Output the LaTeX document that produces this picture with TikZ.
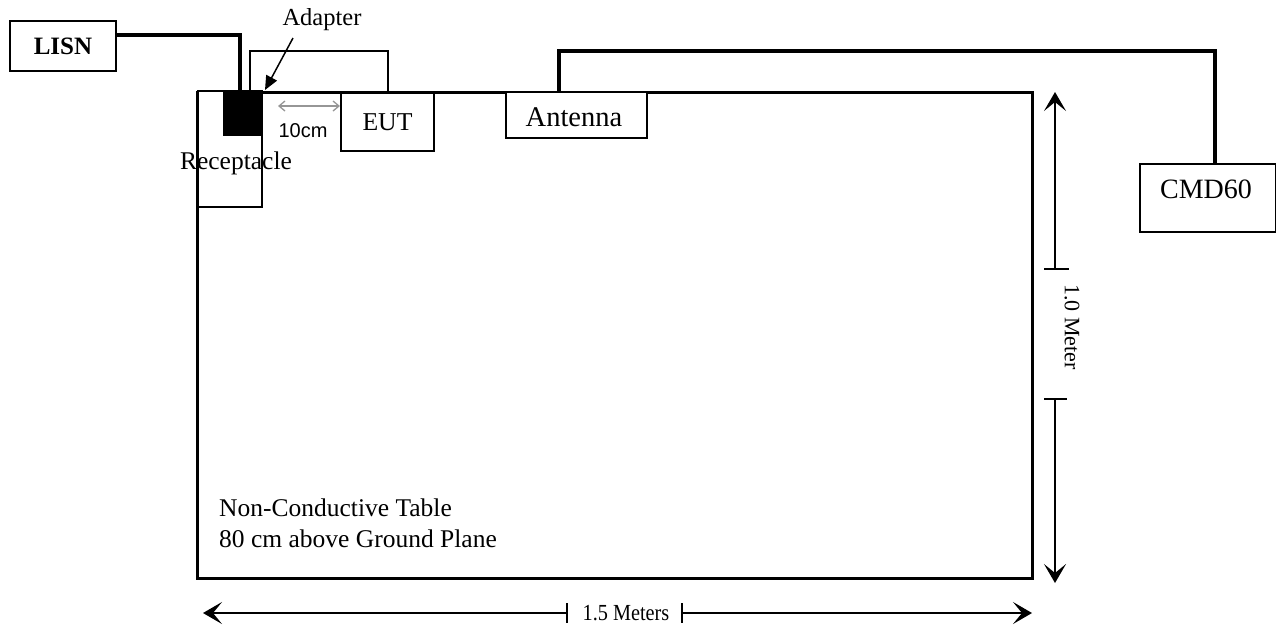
\documentclass[tikz,border=0pt]{standalone}
\usepackage{fontspec}
\setmainfont{Liberation Serif}
\newfontfamily\arialf{Liberation Sans}
\usetikzlibrary{arrows.meta}
\definecolor{dimgray}{RGB}{150,150,150}
\tikzset{
  box/.style={draw, line width=1.6pt, fill=white, inner sep=0pt, anchor=center},
  cable/.style={line width=3.5pt, line join=miter},
  thincable/.style={line width=1.8pt, line join=miter},
  dimline/.style={line width=1.5pt},
  dimtip/.style={-{Stealth[length=19pt,width=22pt,inset=9pt]}},
  lbl/.style={inner sep=0pt, anchor=center},
}
\newcommand{\fs}[1]{\fontsize{#1}{#1}\selectfont}
\begin{document}
\begin{tikzpicture}[x=1pt,y=-1pt]
\useasboundingbox (0,0) rectangle (1276,630);
% table
\node[draw, line width=3pt, inner sep=0pt, minimum width=835pt, minimum height=486pt] (table) at (614.5,335) {};
% receptacle
\node[box, minimum width=64pt, minimum height=116pt] (recep) at (230,149) {};
\node[fill=black, inner sep=0pt, minimum width=39pt, minimum height=44pt] (adapt) at (242.5,114) {};
\node[lbl, font=\fs{25.5}] (receptxt) at (236,163) {Receptacle};
% LISN
\node[box, minimum width=106pt, minimum height=50pt, font=\fs{25}\bfseries] (lisn) at (63,46) {LISN};
% EUT
\node[box, minimum width=93pt, minimum height=58pt, font=\fs{25.7}] (eut) at (387.5,122) {EUT};
% Antenna
\node[box, minimum width=141pt, minimum height=46pt] (ant) at (576.5,115) {};
\node[lbl, font=\fs{28.5}] (anttxt) at (574,117) {Antenna};
% CMD60
\node[box, minimum width=136pt, minimum height=68pt] (cmd) at (1208,198) {};
\node[lbl, font=\fs{28}] (cmdtxt) at (1206,189) {CMD60};
% cables
\coordinate (l1) at (116,35);
\coordinate (l2) at (240,35);
\coordinate (l3) at (240,92);
\draw[cable] (l1) -- (l2) -- (l3);
\coordinate (a1) at (250,92);
\coordinate (a2) at (250,51);
\coordinate (a3) at (388,51);
\coordinate (a4) at (388,93);
\draw[thincable] (a1) -- (a2) -- (a3) -- (a4);
\coordinate (c1) at (559,92);
\coordinate (c2) at (559,51);
\coordinate (c3) at (1215,51);
\coordinate (c4) at (1215,164);
\draw[cable] (c1) -- (c2) -- (c3) -- (c4);
% adapter label and arrow
\node[lbl, font=\fs{24.5}] (adtxt) at (322,20) {Adapter};
\coordinate (adtip) at (265,90);
\coordinate (adstart) at (293,38);
\draw[line width=1.5pt, -{Triangle[length=14pt,width=12pt]}] (adstart) -- (adtip);
% 10cm
\coordinate (g1) at (278,106);
\coordinate (g2) at (340,106);
\draw[dimgray, line width=1.3pt, {Straight Barb[length=6pt,width=10pt]}-{Straight Barb[length=6pt,width=10pt]}] (g1) -- (g2);
\node[lbl, font=\arialf\fs{20}] (tencm) at (303,131) {10cm};
% vertical dimension
\coordinate (vt) at (1055,92);
\coordinate (vb1) at (1055,269);
\coordinate (vb2) at (1055,399);
\coordinate (vbot) at (1055,583);
\draw[dimline, dimtip] (vb1) -- (vt);
\draw[dimline, dimtip] (vb2) -- (vbot);
\draw[dimline] (1044,269) -- (1069,269);
\draw[dimline] (1044,399) -- (1067,399);
\node[lbl, font=\fs{22}, rotate=-90] (onem) at (1072,327) {1.0 Meter};
% horizontal dimension
\coordinate (hl) at (203,613);
\coordinate (hb1) at (567,613);
\coordinate (hb2) at (682,613);
\coordinate (hr) at (1032,613);
\draw[dimline, dimtip] (hb1) -- (hl);
\draw[dimline, dimtip] (hb2) -- (hr);
\draw[dimline] (567,603) -- (567,623);
\draw[dimline] (682,603) -- (682,623);
\node[lbl, font=\fs{23}, xscale=0.88] (onefive) at (626,613) {1.5 Meters};
% table text
\node[inner sep=0pt, anchor=base west, font=\fs{25.5}] (tabtxt1) at (219,516) {Non-Conductive Table};
\node[inner sep=0pt, anchor=base west, font=\fs{25.5}] (tabtxt2) at (219,547) {80 cm above Ground Plane};
\end{tikzpicture}
\end{document}
